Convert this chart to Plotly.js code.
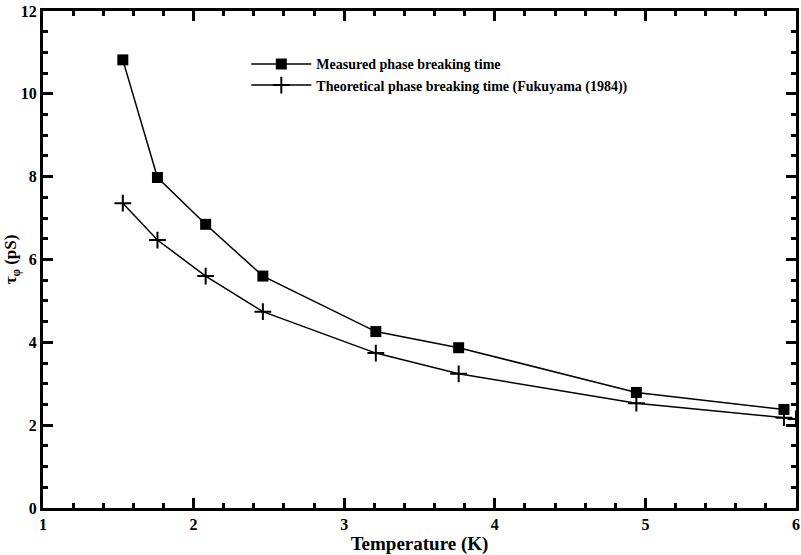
<!DOCTYPE html>
<html>
<head>
<meta charset="utf-8">
<script src="https://cdn.plot.ly/plotly-3.0.1.min.js"></script>
<style>html,body{margin:0;padding:0;background:#fff;}#chart{width:801px;height:555px;}</style>
</head>
<body>
<div id="chart"></div>
<script>
// Data
const measuredT = [1.53, 1.76, 2.08, 2.46, 3.21, 3.76, 4.94, 5.92];
const measuredTau = [10.82, 7.98, 6.85, 5.60, 4.26, 3.87, 2.79, 2.38];
const theoryT = [1.53, 1.76, 2.08, 2.46, 3.21, 3.76, 4.94, 5.92, 6.0];
const theoryTau = [7.36, 6.47, 5.60, 4.74, 3.74, 3.24, 2.53, 2.18, 2.15];
const seriesNames = ["Measured phase breaking time", "Theoretical phase breaking time (Fukuyama (1984))"];
const xRange = [1, 6];
const yRange = [0, 12];

const font = "Liberation Serif, Times New Roman, serif";

const traces = [
  {
    x: measuredT, y: measuredTau, name: seriesNames[0],
    mode: "lines+markers", type: "scatter",
    line: {color: "#000", width: 1.5},
    marker: {symbol: "square", size: 11, color: "#000"}
  },
  {
    x: theoryT, y: theoryTau, name: seriesNames[1],
    mode: "lines+markers", type: "scatter",
    line: {color: "#000", width: 1.5},
    marker: {symbol: "cross-thin-open", size: 12, color: "#000", line: {width: 2, color: "#000"}}
  }
];

const layout = {
  width: 801, height: 555,
  margin: {l: 43, r: 5, t: 11, b: 47},
  paper_bgcolor: "#fff", plot_bgcolor: "#fff",
  showlegend: true,
  legend: {
    x: 0.27, y: 0.925, xanchor: "left", yanchor: "top",
    bgcolor: "rgba(0,0,0,0)", borderwidth: 0,
    font: {family: font, size: 14, color: "#000", weight: "bold"},
    itemwidth: 60, tracegroupgap: 0
  },
  xaxis: {
    range: xRange, dtick: 1, showgrid: true, gridcolor: "#ffffff", zeroline: false,
    showline: true, linecolor: "#000", linewidth: 3, mirror: "allticks",
    ticks: "inside", ticklen: 10, tickwidth: 3, tickcolor: "#000",
    tickfont: {family: font, size: 16, color: "#000", weight: "bold"},
    minor: {ticks: "inside", ticklen: 5, tickcolor: "#000", dtick: 0.2},
    title: {text: "Temperature (K)", font: {family: font, size: 19, color: "#000", weight: "bold"}, standoff: 6}
  },
  yaxis: {
    range: yRange, dtick: 2, showgrid: true, gridcolor: "#ffffff", zeroline: false,
    showline: true, linecolor: "#000", linewidth: 3, mirror: "allticks",
    ticks: "inside", ticklen: 10, tickwidth: 3, tickcolor: "#000",
    tickfont: {family: font, size: 16, color: "#000", weight: "bold"},
    minor: {ticks: "inside", ticklen: 5, tickcolor: "#000", dtick: 0.5},
    title: {text: "τ<sub>φ</sub> (pS)", font: {family: font, size: 17, color: "#000", weight: "bold"}, standoff: 0}
  }
};

Plotly.newPlot("chart", traces, layout, {displayModeBar: false});
</script>
</body>
</html>
